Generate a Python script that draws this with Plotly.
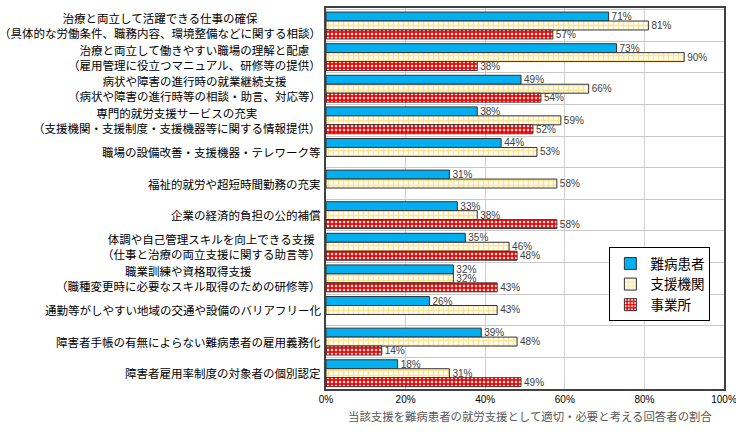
import plotly.graph_objects as go

categories = [
    "治療と両立して活躍できる仕事の確保<br>（具体的な労働条件、職務内容、環境整備などに関する相談）",
    "治療と両立して働きやすい職場の理解と配慮<br>（雇用管理に役立つマニュアル、研修等の提供）",
    "病状や障害の進行時の就業継続支援<br>（病状や障害の進行時等の相談・助言、対応等）",
    "専門的就労支援サービスの充実<br>（支援機関・支援制度・支援機器等に関する情報提供）",
    "職場の設備改善・支援機器・テレワーク等",
    "福祉的就労や超短時間勤務の充実",
    "企業の経済的負担の公的補償",
    "体調や自己管理スキルを向上できる支援<br>（仕事と治療の両立支援に関する助言等）",
    "職業訓練や資格取得支援<br>（職種変更時に必要なスキル取得のための研修等）",
    "通勤等がしやすい地域の交通や設備のバリアフリー化",
    "障害者手帳の有無によらない難病患者の雇用義務化",
    "障害者雇用率制度の対象者の個別認定",
]

series_names = ["難病患者", "支援機関", "事業所"]
patients = [71, 73, 49, 38, 44, 31, 33, 35, 32, 26, 39, 18]
support_orgs = [81, 90, 66, 59, 53, 58, 38, 46, 32, 43, 48, 31]
employers = [57, 38, 54, 52, None, None, 58, 48, 43, None, 14, 49]

x_ticks = [0, 20, 40, 60, 80, 100]
x_tick_labels = ["0%", "20%", "40%", "60%", "80%", "100%"]
x_title = "当該支援を難病患者の就労支援として適切・必要と考える回答者の割合"

FONT = "Noto Sans CJK JP, Noto Sans, sans-serif"
LAT = "Liberation Sans, Arial, sans-serif"

def labels(vals):
    return [("" if v is None else f"{v}%") for v in vals]

text_font = dict(size=10, color="#404040", family=LAT)

fig = go.Figure()

fig.add_trace(go.Bar(
    name=series_names[0], y=categories, x=patients, orientation="h",
    marker=dict(color="#00B0F0", line=dict(color="#333333", width=1)),
    text=labels(patients), textposition="outside", constraintext="none",
    cliponaxis=False, textfont=text_font,
))
fig.add_trace(go.Bar(
    name=series_names[1], y=categories, x=support_orgs, orientation="h",
    marker=dict(color="#FFFFFF", line=dict(color="#333333", width=1),
                pattern=dict(shape="+", fgcolor="#FFE38F", bgcolor="#FFFFFF",
                             size=5, solidity=0.5, fillmode="replace")),
    text=labels(support_orgs), textposition="outside", constraintext="none",
    cliponaxis=False, textfont=text_font,
))
fig.add_trace(go.Bar(
    name=series_names[2], y=categories, x=employers, orientation="h",
    marker=dict(color="#FF0000", line=dict(color="#333333", width=1),
                pattern=dict(shape=".", fgcolor="#FFFFFF", bgcolor="#FF0000",
                             size=4, solidity=0.3, fillmode="replace")),
    text=labels(employers), textposition="outside", constraintext="none",
    cliponaxis=False, textfont=text_font,
))

annotations = []
for c in categories:
    annotations.append(dict(
        x=0, xref="paper", y=c, yref="y", xanchor="right", yanchor="middle",
        xshift=-3, text=c, showarrow=False, align="center",
        font=dict(size=11.5, color="#000000", family=FONT),
    ))
annotations.append(dict(
    x=0.513, xref="paper", y=0, yref="paper", yanchor="middle", yshift=-27,
    text=x_title, showarrow=False,
    font=dict(size=11.4, color="#595959", family=FONT),
))

fig.update_layout(
    width=736, height=436,
    margin=dict(l=326, r=12, t=8, b=47),
    paper_bgcolor="#FFFFFF", plot_bgcolor="#FFFFFF",
    barmode="group", bargap=0.15, bargroupgap=0,
    font=dict(family=FONT, color="#000000"),
    showlegend=True,
    legend=dict(
        x=0.712, y=0.372, xanchor="left", yanchor="top",
        bgcolor="#FFFFFF", bordercolor="#000000", borderwidth=1,
        font=dict(size=13.5, family=FONT, color="#000000"),
        itemwidth=30, tracegroupgap=0,
    ),
    annotations=annotations,
    xaxis=dict(
        range=[0, 100], tickvals=x_ticks, ticktext=x_tick_labels,
        showgrid=True, gridcolor="#D0D0D0", gridwidth=1,
        showline=True, linecolor="#404040", linewidth=1.5, mirror=True,
        ticks="", zeroline=False, ticklabelstandoff=0,
        ticklabeloverflow="allow",
        tickfont=dict(size=10, color="#000000", family=LAT),
        automargin=False, fixedrange=True,
    ),
    yaxis=dict(
        autorange="reversed", type="category", tickson="boundaries",
        showgrid=True, gridcolor="#C8C8C8", gridwidth=1,
        showline=True, linecolor="#404040", linewidth=1.5, mirror=True,
        showticklabels=False, ticks="", automargin=False, fixedrange=True,
    ),
)

fig.write_html(
    "out.html",
    config={"displayModeBar": False},
    post_script="document.body.style.margin='0';document.body.style.padding='0';",
)
